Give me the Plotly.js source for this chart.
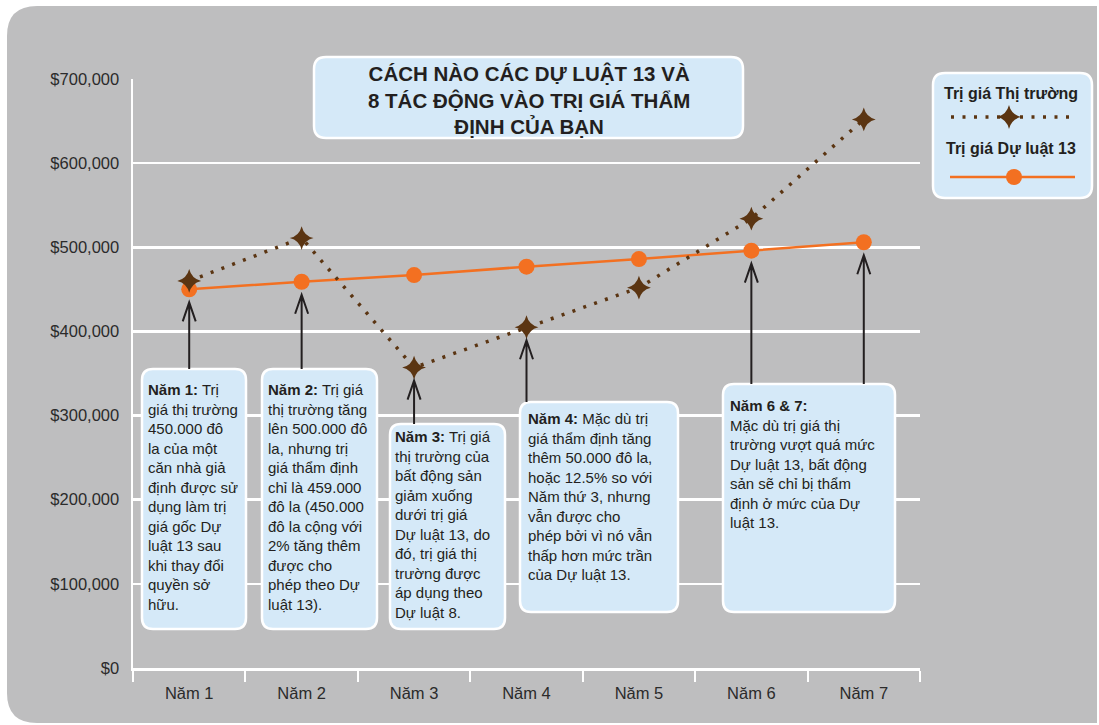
<!DOCTYPE html>
<html>
<head>
<meta charset="utf-8">
<script src="https://cdn.plot.ly/plotly-3.0.1.min.js"></script>
<style>
html,body{margin:0;padding:0;background:#ffffff;}
#chart{width:1099px;height:725px;}
</style>
</head>
<body>
<div id="chart"></div>
<script>
// ---------------- DATA ----------------
const categories = ['Năm 1', 'Năm 2', 'Năm 3', 'Năm 4', 'Năm 5', 'Năm 6', 'Năm 7'];
const marketValues = [460000, 511000, 357000, 405000, 452000, 534000, 652000];
const prop13Values = [450000, 459000, 467000, 477000, 486000, 496000, 506000];
const seriesNames = ['Trị giá Thị trường', 'Trị giá Dự luật 13'];
const yTickValues = [0, 100000, 200000, 300000, 400000, 500000, 600000, 700000];
const yTickLabels = ['$0', '$100,000', '$200,000', '$300,000', '$400,000', '$500,000', '$600,000', '$700,000'];
const titleLines = ['CÁCH NÀO CÁC DỰ LUẬT 13 VÀ', '8 TÁC ĐỘNG VÀO TRỊ GIÁ THẨM', 'ĐỊNH CỦA BẠN'];
const noteHeads = ['Năm 1:', 'Năm 2:', 'Năm 3:', 'Năm 4:', 'Năm 6 & 7:'];
const noteBodies = [
  [' Trị', 'giá thị trường', '450.000 đô', 'la của một', 'căn nhà giả', 'định được sử', 'dụng làm trị', 'giá gốc Dự', 'luật 13 sau', 'khi thay đổi', 'quyền sở', 'hữu.'],
  [' Trị giá', 'thị trường tăng', 'lên 500.000 đô', 'la, nhưng trị', 'giá thẩm định', 'chỉ là 459.000', 'đô la (450.000', 'đô la cộng với', '2% tăng thêm', 'được cho', 'phép theo Dự', 'luật 13).'],
  [' Trị giá', 'thị trường của', 'bất động sản', 'giảm xuống', 'dưới trị giá', 'Dự luật 13, do', 'đó, trị giá thị', 'trường được', 'áp dụng theo', 'Dự luật 8.'],
  [' Mặc dù trị', 'giá thẩm định tăng', 'thêm 50.000 đô la,', 'hoặc 12.5% so với', 'Năm thứ 3, nhưng', 'vẫn được cho', 'phép bởi vì nó vẫn', 'thấp hơn mức trần', 'của Dự luật 13.'],
  ['', 'Mặc dù trị giá thị', 'trường vượt quá mức', 'Dự luật 13, bất động', 'sản sẽ chỉ bị thẩm', 'định ở mức của Dự', 'luật 13.']
];

// ---------------- LAYOUT GEOMETRY ----------------
const W = 1099, H = 725, ML = 133, MT = 79, MB = 57;
const PW = W - ML, PH = H - MT - MB;
const PLOT_RIGHT = 920;
const Y_MAX = 700000;
const FONT = 'Liberation Sans, Arial, Helvetica, sans-serif';
const TXT = '#231f20';
const BOX_FILL = '#d5e9f8';
const BG_GRAY = '#bebebf';
const BROWN = '#5b3512';
const ORANGE = '#f37021';

function fx(px) { return (px - ML) / PW; }
function fy(py) { return (H - MB - py) / PH; }
function rx(px) { return (px - ML).toFixed(1); }
function ry(py) { return (H - MB - py).toFixed(1); }

// rounded rect path in page pixels -> pixel-sized path relative to paper (0,0)
function rrect(x0, y0, x1, y1, r, rr) {
  const rR = rr === undefined ? r : rr;
  return 'M' + rx(x0 + r) + ',' + ry(y0) +
    ' L' + rx(x1 - rR) + ',' + ry(y0) +
    ' Q' + rx(x1) + ',' + ry(y0) + ' ' + rx(x1) + ',' + ry(y0 + rR) +
    ' L' + rx(x1) + ',' + ry(y1 - rR) +
    ' Q' + rx(x1) + ',' + ry(y1) + ' ' + rx(x1 - rR) + ',' + ry(y1) +
    ' L' + rx(x0 + r) + ',' + ry(y1) +
    ' Q' + rx(x0) + ',' + ry(y1) + ' ' + rx(x0) + ',' + ry(y1 - r) +
    ' L' + rx(x0) + ',' + ry(y0 + r) +
    ' Q' + rx(x0) + ',' + ry(y0) + ' ' + rx(x0 + r) + ',' + ry(y0) + ' Z';
}
function pixShape(path, fill, lineColor, lineWidth, layer) {
  return {
    type: 'path', xref: 'paper', yref: 'paper',
    xsizemode: 'pixel', ysizemode: 'pixel', xanchor: 0, yanchor: 0,
    path: path, fillcolor: fill,
    line: { color: lineColor, width: lineWidth },
    layer: layer
  };
}

const shapes = [];
// gray panel background
shapes.push(pixShape(rrect(7, 6, 1097, 723, 30, 0), BG_GRAY, BG_GRAY, 0, 'below'));
// legend box (below the legend sample traces)
shapes.push(pixShape(rrect(933, 73, 1092, 198, 12), BOX_FILL, '#ffffff', 2.5, 'below'));
// title box
shapes.push(pixShape(rrect(314, 57, 743, 138, 12), BOX_FILL, '#ffffff', 2.5, 'above'));

// note boxes: [left, top, right, bottom]
const noteBoxes = [
  [142, 369, 246, 629],
  [262, 369, 377, 629],
  [390, 424, 505, 629],
  [520, 402, 678, 612],
  [723, 384, 895, 612]
];
noteBoxes.forEach(b => shapes.push(pixShape(rrect(b[0], b[1], b[2], b[3], 11), BOX_FILL, '#ffffff', 2.5, 'above')));

// arrows from the boxes up to the points: [category index, series, box top px]
const arrowSpecs = [
  [0, prop13Values, 369],
  [1, prop13Values, 369],
  [2, marketValues, 424],
  [3, marketValues, 402],
  [5, prop13Values, 384],
  [6, prop13Values, 384]
];
const GAP = 13, HEAD_H = 19, HEAD_W = 6.5;
arrowSpecs.forEach(a => {
  const idx = a[0];
  const v = a[1][idx];
  const pointPx = (H - MB) - v / Y_MAX * PH;
  const len = a[2] - pointPx;
  shapes.push({
    type: 'path', xref: 'x', yref: 'y',
    xsizemode: 'pixel', ysizemode: 'pixel', xanchor: idx, yanchor: v,
    path: 'M0,' + (-GAP) + ' L0,' + (-len) +
      ' M' + (-HEAD_W) + ',' + (-(GAP + HEAD_H)) + ' L0,' + (-GAP) + ' L' + HEAD_W + ',' + (-(GAP + HEAD_H)),
    line: { color: TXT, width: 2 },
    layer: 'above'
  });
});

// ---------------- ANNOTATIONS ----------------
const annotations = [];
annotations.push({
  xref: 'paper', yref: 'paper', x: fx(529), y: fy(100),
  xanchor: 'center', yanchor: 'middle', align: 'center', showarrow: false,
  text: '<b>' + titleLines.join('<br>') + '</b>',
  font: { family: FONT, size: 20.5, color: TXT }
});
// note texts: [text left px, first line center px]
const noteTextPos = [[147, 390], [267, 390], [394, 437], [527, 419], [729, 406]];
const NOTE_SIZE = 15;
const NOTE_LH = NOTE_SIZE * 1.3;
noteTextPos.forEach((p, i) => {
  const body = noteBodies[i];
  let txt = '<b>' + noteHeads[i] + '</b>' + body[0];
  if (body.length > 1) txt += '<br>' + body.slice(1).join('<br>');
  annotations.push({
    xref: 'paper', yref: 'paper', x: fx(p[0] - 1), y: fy(p[1] - NOTE_LH / 2 - 1),
    xanchor: 'left', yanchor: 'top', align: 'left', showarrow: false,
    text: txt,
    font: { family: FONT, size: NOTE_SIZE, color: TXT }
  });
});
// legend labels
[[seriesNames[0], 93], [seriesNames[1], 148]].forEach(l => {
  annotations.push({
    xref: 'paper', yref: 'paper', x: fx(1011), y: fy(l[1]),
    xanchor: 'center', yanchor: 'middle', showarrow: false,
    text: '<b>' + l[0] + '</b>',
    font: { family: FONT, size: 16, color: TXT }
  });
});

// ---------------- TRACES ----------------
const traces = [
  {
    type: 'scatter', mode: 'lines+markers', name: seriesNames[1],
    x: categories, y: prop13Values,
    line: { color: ORANGE, width: 2.5 },
    marker: { symbol: 'circle', size: 16, color: ORANGE },
    xaxis: 'x', yaxis: 'y', showlegend: false, hoverinfo: 'skip'
  },
  {
    type: 'scatter', mode: 'lines+markers', name: seriesNames[0],
    x: categories, y: marketValues,
    line: { color: BROWN, width: 3.5, dash: '3px,8.5px' },
    marker: { symbol: 'star-diamond', size: 17, color: BROWN },
    xaxis: 'x', yaxis: 'y', showlegend: false, hoverinfo: 'skip'
  },
  // legend samples (in the legend panel, on a pixel-mapped helper axis)
  {
    type: 'scatter', mode: 'lines', x: [951, 1075], y: [117, 117],
    line: { color: BROWN, width: 3.5, dash: '3px,8.5px' },
    xaxis: 'x2', yaxis: 'y2', showlegend: false, hoverinfo: 'skip'
  },
  {
    type: 'scatter', mode: 'markers', x: [1009], y: [117],
    marker: { symbol: 'star-diamond', size: 17, color: BROWN },
    xaxis: 'x2', yaxis: 'y2', showlegend: false, hoverinfo: 'skip'
  },
  {
    type: 'scatter', mode: 'lines', x: [950, 1075], y: [177, 177],
    line: { color: ORANGE, width: 2.5 },
    xaxis: 'x2', yaxis: 'y2', showlegend: false, hoverinfo: 'skip'
  },
  {
    type: 'scatter', mode: 'markers', x: [1014], y: [177],
    marker: { symbol: 'circle', size: 16, color: ORANGE },
    xaxis: 'x2', yaxis: 'y2', showlegend: false, hoverinfo: 'skip'
  }
];

const layout = {
  width: W, height: H,
  margin: { l: ML, r: 0, t: MT, b: MB, pad: 0 },
  paper_bgcolor: '#ffffff',
  plot_bgcolor: 'rgba(0,0,0,0)',
  showlegend: false,
  font: { family: FONT, color: TXT },
  xaxis: {
    domain: [0, (PLOT_RIGHT - ML) / PW],
    type: 'category',
    range: [-0.5, categories.length - 0.5],
    fixedrange: true,
    showgrid: false, zeroline: false,
    showline: true, linecolor: '#ffffff', linewidth: 3,
    ticks: 'outside', tickson: 'boundaries', ticklen: 11, tickwidth: 2, tickcolor: '#ffffff',
    tickfont: { family: FONT, size: 16.5, color: '#2b2b2b' },
    ticklabelstandoff: 8
  },
  yaxis: {
    range: [0, Y_MAX],
    tickmode: 'array',
    tickvals: yTickValues,
    ticktext: yTickLabels,
    fixedrange: true,
    showgrid: true, gridcolor: '#ffffff', gridwidth: 2.5,
    zeroline: false,
    showline: true, linecolor: '#ffffff', linewidth: 2.5,
    ticks: '',
    tickfont: { family: FONT, size: 16.5, color: '#2b2b2b' },
    ticklabelstandoff: 8
  },
  xaxis2: {
    domain: [(PLOT_RIGHT - ML) / PW, 1], range: [PLOT_RIGHT, W],
    anchor: 'y2', visible: false, fixedrange: true
  },
  yaxis2: {
    domain: [0, 1], range: [H - MB, MT],
    anchor: 'x2', visible: false, fixedrange: true
  },
  shapes: shapes,
  annotations: annotations
};

Plotly.newPlot('chart', traces, layout, { displayModeBar: false, staticPlot: true });
</script>
</body>
</html>
